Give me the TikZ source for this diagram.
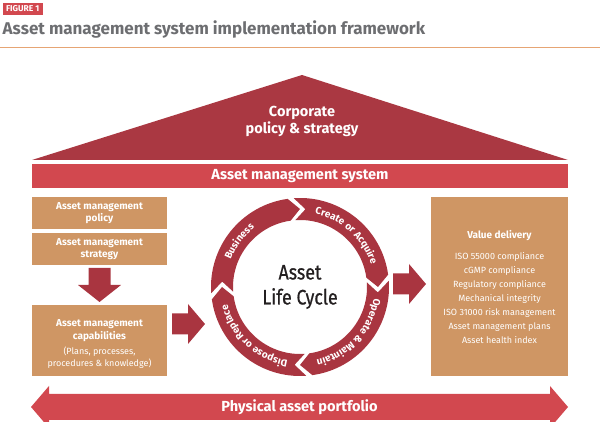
\documentclass[tikz,border=0pt]{standalone}
\usepackage{fontspec}
\setmainfont{Fira Sans}
\newfontfamily\firamed[FakeBold=0.8]{Fira Sans}
\usetikzlibrary{decorations.text}
\definecolor{roofred}{HTML}{AA3842}
\definecolor{barred}{HTML}{D2484F}
\definecolor{boxtan}{HTML}{CF9664}
\definecolor{ringred}{HTML}{A93540}
\definecolor{titlegray}{HTML}{6D6E71}
\definecolor{rulecol}{HTML}{E6A574}
\definecolor{ink}{HTML}{231F20}
\newcommand{\bft}{\bfseries\fontsize{10}{12.5}\selectfont}
\tikzset{
  tanbox/.style={fill=boxtan, text=white, inner sep=0, align=center, minimum width=135},
  boxline/.style={text=white, inner sep=0, anchor=base},
  boldline/.style={boxline, font=\bfseries\fontsize{10}{12}\selectfont},
  plainline/.style={boxline, font=\fontsize{9}{11}\selectfont},
  ringlabel/.style={decorate, decoration={text along path, text align=center, text color=white}},
  blockarrow/.style={fill=ringred},
}
\begin{document}
\begin{tikzpicture}[x=1pt,y=1pt]
\useasboundingbox (0,0) rectangle (600,422);
% header
\node[fill=barred, text=white, font=\bfseries\fontsize{8.5}{8.5}\selectfont, minimum width=40, minimum height=11.5, inner sep=0, anchor=north west] (fig) at (2.5,419) {FIGURE 1};
\node[anchor=base west, text=titlegray, font=\bfseries\fontsize{17}{17}\selectfont, inner sep=0] (title) at (2.5,387) {Asset management system implementation framework};
\coordinate (r1) at (0,374.5);
\coordinate (r2) at (600,374.5);
\draw[rulecol, line width=1.2] (r1) -- (r2);
% roof
\coordinate (apex) at (302,347);
\coordinate (rl) at (32,262);
\coordinate (rr) at (568,262);
\fill[roofred] (rl) -- (apex) -- (rr) -- cycle;
\node[text=white, font=\bfseries\fontsize{14.5}{17}\selectfont, align=center] (corp) at (302,301) {Corporate\\policy \& strategy};
% AMS bar
\node[fill=barred, minimum width=536, minimum height=24, inner sep=0, text=white, font=\bfseries\fontsize{14.6}{14.6}\selectfont] (ams) at (300,245.5) {Asset management system};
% left boxes
\node[tanbox, font=\bft, minimum height=32] (policy) at (99.5,209) {Asset management\\policy};
\node[tanbox, font=\bft, minimum height=32] (strategy) at (99.5,173) {Asset management\\strategy};
\node[tanbox, minimum height=71] (cap) at (99.5,81.5) {};
\node[boldline] (cap1) at (99.5,95.5) {Asset management};
\node[boldline] (cap2) at (99.5,82.5) {capabilities};
\node[plainline] (cap3) at (99.5,67) {(Plans, processes,};
\node[plainline] (cap4) at (99.5,55) {procedures \& knowledge)};
% right box
\node[tanbox, minimum width=137, minimum height=179] (value) at (499.5,135.5) {};
\node[boldline] (vhead) at (499.5,183.5) {Value delivery};
\foreach \t [count=\i] in {ISO 55000 compliance, cGMP compliance, Regulatory compliance, Mechanical integrity, ISO 31000 risk management, Asset management plans, Asset health index}{
  \node[plainline] (v\i) at (499.5,{165-14*(\i-1)-3}) {\t};
}
% down arrow
\fill[blockarrow] (88.5,154) -- (110.5,154) -- (110.5,137) -- (121,137) -- (99.5,120) -- (78,137) -- (88.5,137) -- cycle;
% right arrows
\fill[blockarrow] (172,108.5) -- (188,108.5) -- (188,118) -- (205,98) -- (188,78) -- (188,87.5) -- (172,87.5) -- cycle;
\fill[blockarrow] (393,148.5) -- (409,148.5) -- (409,158) -- (426,138) -- (409,118) -- (409,127.5) -- (393,127.5) -- cycle;
% ring
\coordinate (C) at (300,135);
\foreach \a/\b in {184/98, 94/8, 4/-82, -86/-172}{
  \pgfmathsetmacro{\tip}{\b-8}
  \pgfmathsetmacro{\notch}{\a-8}
  \fill[ringred] ([shift={(C)}]\a:89) arc[start angle=\a, end angle=\b, radius=89]
    -- ([shift={(C)}]\tip:78) -- ([shift={(C)}]\b:67)
    arc[start angle=\b, end angle=\a, radius=67]
    -- ([shift={(C)}]\notch:78) -- cycle;
}
\path[ringlabel, decoration={text={|\bfseries\fontsize{10}{10}\selectfont|Business}}] ([shift={(C)}]186:74.5) arc[start angle=186, end angle=100, radius=74.5];
\path[ringlabel, decoration={text={|\bfseries\fontsize{10}{10}\selectfont|Create or Acquire}}] ([shift={(C)}]91:74.5) arc[start angle=91, end angle=5, radius=74.5];
\path[ringlabel, decoration={text={|\bfseries\fontsize{10}{10}\selectfont|Operate {\&} Maintain}}] ([shift={(C)}]0:74.5) arc[start angle=0, end angle=-86, radius=74.5];
\path[ringlabel, decoration={text={|\bfseries\fontsize{10}{10}\selectfont|Dispose or Replace}}] ([shift={(C)}]-90:74.5) arc[start angle=-90, end angle=-176, radius=74.5];
\node[text=ink, font=\firamed\fontsize{21}{25}\selectfont, align=center] (alc) at (C) {\scalebox{0.85}[1]{Asset}\\\scalebox{0.85}[1]{Life Cycle}};
% bottom arrow
\fill[barred] (31,15) -- (49,36) -- (49,28) -- (550,28) -- (550,36) -- (568,15) -- (550,-6) -- (550,2) -- (49,2) -- (49,-6) -- cycle;
\node[text=white, font=\bfseries\fontsize{14.6}{14.6}\selectfont] (phys) at (299.5,15) {Physical asset portfolio};
\end{tikzpicture}
\end{document}
